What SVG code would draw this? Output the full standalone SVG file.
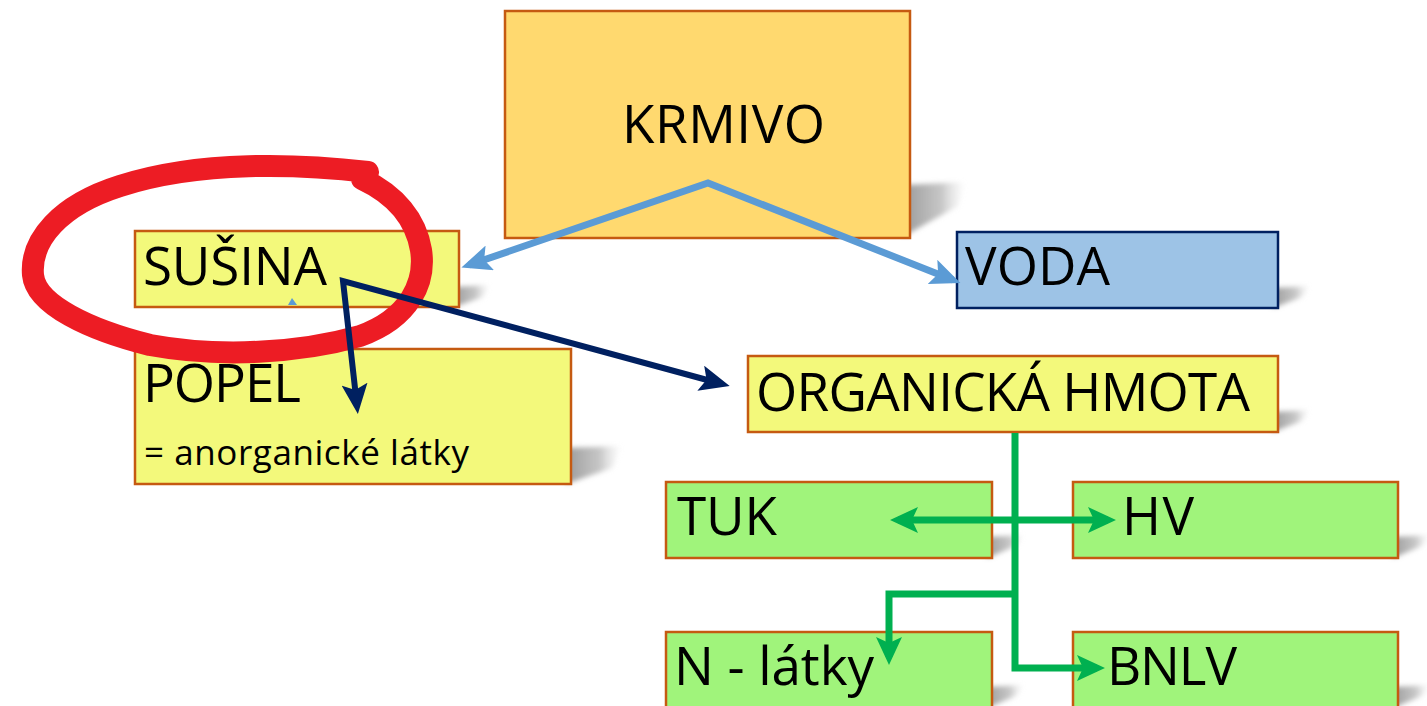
<svg xmlns="http://www.w3.org/2000/svg" width="1427" height="706" viewBox="0 0 1427 706">
  <style>
    .box { stroke: #C55A11; stroke-width: 2.5; }
    .yellow { fill: #F3F97B; }
    .gold { fill: #FFD96F; }
    .green { fill: #A0F47B; }
    .blue { fill: #9DC3E6; stroke: #002060; stroke-width: 2.5; }
    .lbl { font-family: "Open Sans", "Noto Sans", sans-serif; font-size: 53px; fill: #000; }
    .sub { font-family: "Open Sans", "Noto Sans", sans-serif; font-size: 35px; fill: #000; }
    .shadow { fill: url(#shadeGrad); filter: url(#soft); }
    .c-blue { fill: none; stroke: #5B9BD5; stroke-width: 7; }
    .c-navy { fill: none; stroke: #002060; stroke-width: 6; stroke-linejoin: miter; }
    .c-green { fill: none; stroke: #00B050; stroke-width: 7; }
  </style>
  <defs>
    <linearGradient id="shadeGrad" x1="0" y1="0" x2="1" y2="0">
      <stop offset="0" stop-color="#9a9a9a"/>
      <stop offset="0.6" stop-color="#b8b8b8" stop-opacity="0.8"/>
      <stop offset="1" stop-color="#dcdcdc" stop-opacity="0"/>
    </linearGradient>
    <filter id="soft" x="-30%" y="-30%" width="160%" height="160%">
      <feGaussianBlur stdDeviation="2.5"/>
    </filter>
    <marker id="ahBlue" viewBox="0 0 30 26" refX="22" refY="13" markerWidth="30" markerHeight="26" markerUnits="userSpaceOnUse" orient="auto-start-reverse">
      <path d="M0,0 L30,13 L0,26 L6,13 Z" fill="#5B9BD5"/>
    </marker>
    <marker id="ahNavy" viewBox="0 0 30 26" refX="22" refY="13" markerWidth="30" markerHeight="26" markerUnits="userSpaceOnUse" orient="auto-start-reverse">
      <path d="M0,0 L30,13 L0,26 L6,13 Z" fill="#002060"/>
    </marker>
    <marker id="ahGreen" viewBox="0 0 28 26" refX="20" refY="13" markerWidth="28" markerHeight="26" markerUnits="userSpaceOnUse" orient="auto-start-reverse">
      <path d="M0,0 L28,13 L0,26 L6,13 Z" fill="#00B050"/>
    </marker>
  </defs>

  <rect width="1427" height="706" fill="#ffffff"/>

  <!-- perspective drop shadows behind the boxes -->
  <g id="shadows">
    <polygon class="shadow" points="904,185 966,182 958,206 904,236"/>
    <polygon class="shadow" points="454,287 490,285 483,297 454,307"/>
    <polygon class="shadow" points="566,448 622,446 612,468 566,484"/>
    <polygon class="shadow" points="1273,288 1310,286 1302,297 1273,308"/>
    <polygon class="shadow" points="1273,412 1310,410 1302,421 1273,432"/>
    <polygon class="shadow" points="987,537 1024,535 1016,546 987,558"/>
    <polygon class="shadow" points="1393,537 1430,535 1422,546 1393,558"/>
    <polygon class="shadow" points="987,687 1024,685 1016,696 987,708"/>
    <polygon class="shadow" points="1393,687 1430,685 1422,696 1393,708"/>
  </g>

  <g id="krmivo">
    <rect class="box gold" x="505" y="11" width="405" height="227"/>
    <text class="lbl" x="622" y="143" textLength="203" lengthAdjust="spacing">KRMIVO</text>
  </g>

  <g id="susina">
    <rect class="box yellow" x="135" y="231" width="324" height="76"/>
    <text class="lbl" x="143" y="285" textLength="184" lengthAdjust="spacing">SUŠINA</text>
  </g>

  <g id="popel">
    <rect class="box yellow" x="135" y="349" width="436" height="135"/>
    <text class="lbl" x="143" y="402" textLength="158" lengthAdjust="spacing">POPEL</text>
    <text class="sub" x="144" y="465" textLength="325" lengthAdjust="spacing">= anorganické látky</text>
  </g>

  <g id="voda">
    <rect class="blue" x="957" y="232" width="321" height="76"/>
    <text class="lbl" x="965" y="285" textLength="145" lengthAdjust="spacing">VODA</text>
  </g>

  <g id="organicka-hmota">
    <rect class="box yellow" x="748" y="356" width="530" height="76"/>
    <text class="lbl" x="756" y="411" textLength="494" lengthAdjust="spacing">ORGANICKÁ HMOTA</text>
  </g>

  <g id="tuk">
    <rect class="box green" x="666" y="482" width="326" height="76"/>
    <text class="lbl" x="677" y="535" textLength="100" lengthAdjust="spacing">TUK</text>
  </g>

  <g id="hv">
    <rect class="box green" x="1073" y="482" width="325" height="76"/>
    <text class="lbl" x="1122" y="535" textLength="72" lengthAdjust="spacing">HV</text>
  </g>

  <g id="n-latky">
    <rect class="box green" x="666" y="632" width="326" height="78"/>
    <text class="lbl" x="674" y="685" textLength="200" lengthAdjust="spacing">N - látky</text>
  </g>

  <g id="bnlv">
    <rect class="box green" x="1073" y="632" width="325" height="78"/>
    <text class="lbl" x="1107" y="685" textLength="130" lengthAdjust="spacing">BNLV</text>
  </g>

  <!-- hand-drawn highlight loop around SUŠINA -->
  <g id="highlight">
    <path d="M 368 172 C 300 164, 200 160, 120 186 C 60 205, 30 240, 33 275 C 36 305, 90 330, 150 345 C 220 358, 300 353, 360 336 C 410 318, 426 282, 421 250 C 416 220, 396 195, 362 179"
          fill="none" stroke="#ED1C24" stroke-width="22" stroke-linecap="round" stroke-linejoin="round"/>
  </g>

  <g id="connectors">
    <!-- KRMIVO splits into SUŠINA and VODA -->
    <path class="c-blue" d="M 469 265 L 708 183 L 953 280" marker-start="url(#ahBlue)" marker-end="url(#ahBlue)"/>
    <polygon points="292,298 288,305 297,305" fill="#5B9BD5"/>
    <!-- SUŠINA splits into POPEL and ORGANICKÁ HMOTA -->
    <path class="c-navy" d="M 722 384 L 343 281 L 357 406" marker-start="url(#ahNavy)" marker-end="url(#ahNavy)"/>
    <!-- ORGANICKÁ HMOTA components -->
    <path class="c-green" d="M 898 520 L 1108 520" marker-start="url(#ahGreen)" marker-end="url(#ahGreen)"/>
    <path class="c-green" d="M 1015 433 L 1015 668 L 1097 668" marker-end="url(#ahGreen)"/>
    <path class="c-green" d="M 1015 594 L 889 594 L 889 657" marker-end="url(#ahGreen)"/>
  </g>
</svg>
